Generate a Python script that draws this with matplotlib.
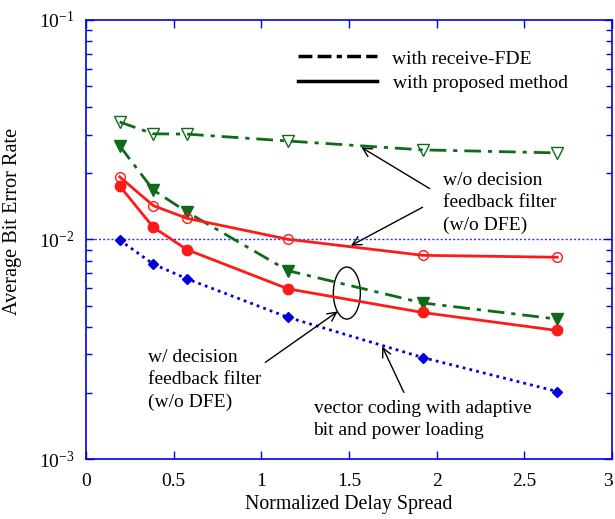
import math
import matplotlib
matplotlib.use("Agg")
import matplotlib.pyplot as plt
import matplotlib.transforms as mtransforms
from matplotlib.patches import Ellipse
from matplotlib.ticker import LogLocator, FixedLocator, FuncFormatter

plt.rcParams['font.family'] = ['Liberation Serif', 'DejaVu Serif']
plt.rcParams['mathtext.fontset'] = 'custom'
plt.rcParams['mathtext.rm'] = 'Liberation Serif'
plt.rcParams['mathtext.it'] = 'Liberation Serif:italic'

x = [0.192, 0.384, 0.576, 1.152, 1.92, 2.688]
fde_no_dfe = [0.0343, 0.0303, 0.0302, 0.0281, 0.0256, 0.0248]
fde_dfe = [0.0267, 0.0168, 0.01334, 0.00721, 0.00514, 0.00434]
prop_no_dfe = [0.0193, 0.01426, 0.01249, 0.01002, 0.00847, 0.0083]
prop_dfe = [0.01754, 0.01137, 0.00899, 0.00596, 0.00465, 0.00385]
vector_coding = [0.00994, 0.00773, 0.00662, 0.00442, 0.0029, 0.00203]

xticks = [0, 0.5, 1, 1.5, 2, 2.5, 3]
xticklabels = ['0', '0.5', '1', '1.5', '2', '2.5', '3']

green = '#0f6a1a'
red = '#ff1a1a'
blue = '#0000dd'
frame = '#0000ee'
FS = 14
LS = 1.4

fig = plt.figure(figsize=(6.15, 5.19), dpi=100)
ax = fig.add_axes([0.1398, 0.1156, 0.8552, 0.8459])
ax.set_xlim(0, 3)
ax.set_yscale('log')
ax.set_ylim(1e-3, 1e-1)

ax.axhline(1e-2, color='#3030ff', lw=1.0, ls=(0, (1.5, 1.5)), zorder=1)

dashdot = (0, (6, 2.5, 1.5, 2.5))
ax.plot(x, fde_no_dfe, color=green, lw=2, ls=dashdot, marker='v', ms=8,
        mfc='none', mec=green, mew=1)
ax.plot(x, fde_dfe, color=green, lw=2, ls=dashdot, marker='v', ms=8,
        mfc=green, mec=green)
ax.plot(x, prop_no_dfe, color=red, lw=2, marker='o', ms=7,
        mfc='none', mec=red, mew=1)
ax.plot(x, prop_dfe, color=red, lw=2, marker='o', ms=7.5,
        mfc=red, mec=red)
ax.plot(x, vector_coding, color=blue, lw=2, ls=(0, (1, 1.5)), marker='D', ms=5,
        mfc=blue, mec=blue)

# legend (manual, black samples)
ax.plot([1.209, 1.66], [0.0686, 0.0686], color='black', lw=2.5,
        ls=(0, (4, 1.5, 4, 1.5, 1.5, 1.5)))
ax.plot([1.209, 1.66], [0.0529, 0.0529], color='black', lw=2.5)
ax.text(1.745, 0.0664, 'with receive-FDE', fontsize=FS, va='center')
ax.text(1.75, 0.0513, 'with proposed method', fontsize=FS, va='center')

# annotations
ap = dict(arrowstyle='->', color='black', lw=1, mutation_scale=16)
ax.text(2.034, 0.0203, 'w/o decision\nfeedback filter\n(w/o DFE)', fontsize=FS,
        va='top', linespacing=LS)
ax.annotate('', xy=(1.557, 0.0267), xytext=(1.974, 0.0168), arrowprops=ap)
ax.annotate('', xy=(1.497, 0.00925), xytext=(1.934, 0.01422), arrowprops=ap)

ax.add_patch(Ellipse((0.496, 0.378), width=0.0513, height=0.1185,
                     transform=ax.transAxes, fill=False, ec='black', lw=1))
ax.annotate('', xy=(1.449, 0.00478), xytext=(1.01, 0.00271), arrowprops=ap)
ax.text(0.356, 0.00317, 'w/ decision\nfeedback filter\n(w/o DFE)', fontsize=FS,
        va='top', linespacing=LS)
ax.annotate('', xy=(1.683, 0.00334), xytext=(1.82, 0.00196), arrowprops=ap)
ax.text(1.298, 0.00186, 'vector coding with adaptive\nbit and power loading',
        fontsize=FS, va='top', linespacing=LS)

# axes styling
for s in ax.spines.values():
    s.set_color(frame)
    s.set_linewidth(1.2)
ax.xaxis.set_major_locator(FixedLocator(xticks))
ax.set_xticklabels(xticklabels)
ax.yaxis.set_major_locator(LogLocator(base=10))
ax.yaxis.set_minor_locator(LogLocator(base=10, subs=range(2, 10)))
ax.yaxis.set_major_formatter(FuncFormatter(lambda v, p: '$10^{%d}$' % round(math.log10(v))))
ax.yaxis.set_minor_formatter(FuncFormatter(lambda v, p: ''))
ax.tick_params(which='both', direction='in', top=True, right=True, color=frame,
               labelsize=FS, labelcolor='black')
ax.tick_params(which='major', length=6, width=1)
ax.tick_params(which='minor', length=4, width=1)
ax.tick_params(axis='x', pad=10)
ax.tick_params(axis='y', pad=8)
ax.set_xlabel('Normalized Delay Spread', fontsize=14.3, labelpad=3.5)
ax.set_ylabel('Average Bit Error Rate', fontsize=14.6)
ax.yaxis.set_label_coords(-0.122, 0.542)

# keep the last x tick label inside the figure
last = ax.get_xticklabels()[-1]
last.set_transform(last.get_transform() +
                   mtransforms.ScaledTranslation(-4 / 100, 0, fig.dpi_scale_trans))

fig.savefig('out.png', dpi=100)
